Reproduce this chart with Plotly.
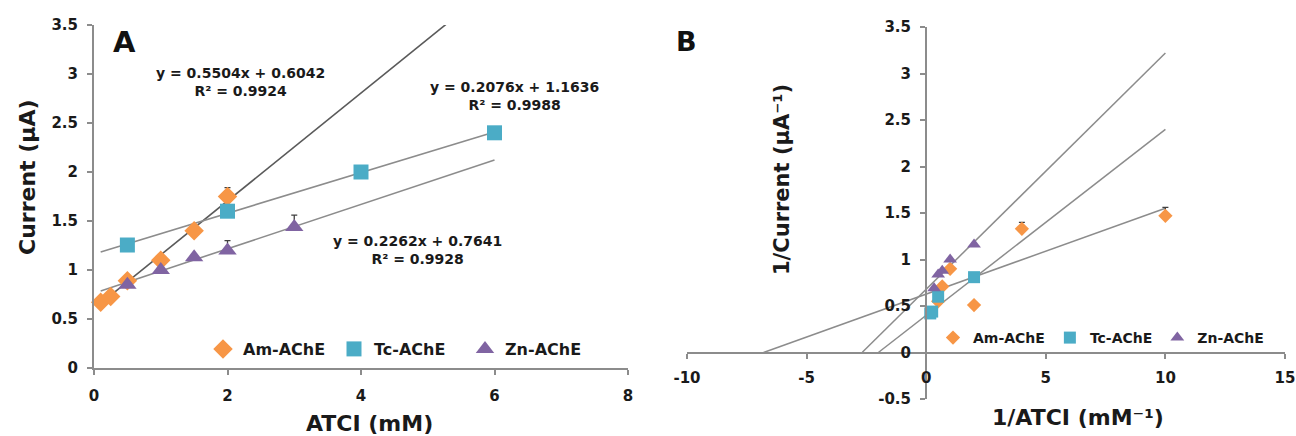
import plotly.graph_objects as go

W, H = 1296, 436

# ---------------- DATA ----------------
series_names = ["Am-AChE", "Tc-AChE", "Zn-AChE"]
series_colors = ["#F79646", "#4BACC6", "#8064A2"]
series_symbols = ["diamond", "square", "triangle-up"]

# Panel A : Current vs ATCI
a_am_x = [0.1, 0.25, 0.5, 1.0, 1.5, 2.0]
a_am_y = [0.67, 0.73, 0.89, 1.10, 1.40, 1.75]
a_am_err = [0.02, 0.02, 0.02, 0.03, 0.03, 0.09]
a_tc_x = [0.5, 2.0, 4.0, 6.0]
a_tc_y = [1.255, 1.60, 2.00, 2.40]
a_tc_err = [0.02, 0.03, 0.03, 0.03]
a_zn_x = [0.5, 1.0, 1.5, 2.0, 3.0]
a_zn_y = [0.85, 1.00, 1.13, 1.20, 1.44]
a_zn_err = [0.02, 0.02, 0.03, 0.10, 0.12]
# trendline coefficients (slope, intercept) printed on the chart
a_fit_slope = [0.5504, 0.2076, 0.2262]
a_fit_icpt = [0.6042, 1.1636, 0.7641]
a_fit_r2 = [0.9924, 0.9988, 0.9928]
a_fit_xrange = [0.1, 6.0]
a_xticks = [0, 2, 4, 6, 8]
a_yticks = [0, 0.5, 1, 1.5, 2, 2.5, 3, 3.5]
a_ytick_labels = ["0", "0.5", "1", "1.5", "2", "2.5", "3", "3.5"]

# Panel B : Lineweaver-Burk
b_am_x = [10.0, 4.0, 2.0, 1.0, 0.67, 0.5]
b_am_y = [1.47, 1.33, 0.51, 0.90, 0.71, 0.55]
b_am_err = [0.09, 0.07, 0.01, 0.02, 0.01, 0.01]
b_tc_x = [0.17, 0.25, 0.5, 2.0]
b_tc_y = [0.42, 0.44, 0.60, 0.81]
b_zn_x = [2.0, 1.0, 0.67, 0.5, 0.33]
b_zn_y = [1.16, 1.00, 0.88, 0.84, 0.69]
b_fit_slope = [0.0923, 0.20, 0.254]      # Am, Tc, Zn
b_fit_icpt = [0.628, 0.40, 0.68]
b_fit_xrange = [[-6.8, 10.0], [-2.0, 10.0], [-2.67, 10.0]]
b_xticks = [-10, -5, 0, 5, 10, 15]
b_xtick_labels = ["-10", "-5", "0", "5", "10", "15"]
b_yticks = [-0.5, 0, 0.5, 1, 1.5, 2, 2.5, 3, 3.5]
b_ytick_labels = ["-0.5", "0", "0.5", "1", "1.5", "2", "2.5", "3", "3.5"]

# ---------------- HELPERS ----------------
def fx(p):
    return p / W

def fy(p):
    return 1 - p / H

FONT = "DejaVu Sans"
AXCOL = "#8C8C8C"

fig = go.Figure()

# ---- Panel A trendlines ----
line_cols_a = ["#5A5A5A", "#8C8C8C", "#8C8C8C"]
for s, b, c in zip(a_fit_slope, a_fit_icpt, line_cols_a):
    xs = list(a_fit_xrange)
    fig.add_trace(go.Scatter(x=xs, y=[s * x + b for x in xs], mode="lines",
                             line=dict(color=c, width=1.6), showlegend=False,
                             hoverinfo="skip", xaxis="x", yaxis="y"))

# ---- Panel A markers ----
a_sets = [(a_am_x, a_am_y, a_am_err), (a_tc_x, a_tc_y, a_tc_err), (a_zn_x, a_zn_y, a_zn_err)]
a_sizes = [15, 15, 16]
for i, (xs, ys, es) in enumerate(a_sets):
    fig.add_trace(go.Scatter(
        x=xs, y=ys, mode="markers", name=series_names[i],
        marker=dict(color=series_colors[i], symbol=series_symbols[i], size=a_sizes[i],
                    line=dict(width=0)),
        error_y=dict(type="data", array=es, arrayminus=[0] * len(es), symmetric=False,
                     color="#404040", thickness=1.3, width=3),
        cliponaxis=False, xaxis="x", yaxis="y", legend="legend"))

# ---- Panel B trendlines ----
for s, b, rng in zip(b_fit_slope, b_fit_icpt, b_fit_xrange):
    fig.add_trace(go.Scatter(x=rng, y=[s * x + b for x in rng], mode="lines",
                             line=dict(color="#8C8C8C", width=1.5), showlegend=False,
                             hoverinfo="skip", xaxis="x2", yaxis="y2"))

# ---- Panel B markers ----
b_sets = [(b_am_x, b_am_y, b_am_err), (b_tc_x, b_tc_y, None), (b_zn_x, b_zn_y, None)]
b_sizes = [11, 12, 12]
for i, (xs, ys, es) in enumerate(b_sets):
    ey = None
    if es is not None:
        ey = dict(type="data", array=es, arrayminus=[0] * len(es), symmetric=False,
                  color="#404040", thickness=1.2, width=3)
    fig.add_trace(go.Scatter(
        x=xs, y=ys, mode="markers", name=series_names[i],
        marker=dict(color=series_colors[i], symbol=series_symbols[i], size=b_sizes[i],
                    line=dict(width=0)),
        error_y=ey, cliponaxis=False, xaxis="x2", yaxis="y2", legend="legend2"))

tickfont = dict(family=FONT, size=15, color="#1a1a1a", weight="bold")
common = dict(showline=True, linecolor=AXCOL, linewidth=2, ticks="outside",
              ticklen=5, tickwidth=2, tickcolor=AXCOL, showgrid=False, zeroline=False,
              tickfont=tickfont, automargin=False)

fig.update_layout(
    width=W, height=H,
    margin=dict(l=0, r=0, t=0, b=0, autoexpand=False),
    paper_bgcolor="white", plot_bgcolor="white",
    xaxis=dict(domain=[fx(94), fx(628)], range=[0, 8], tickvals=a_xticks,
               ticktext=[str(t) for t in a_xticks], ticklabelstandoff=8, anchor="y", **common),
    yaxis=dict(domain=[fy(368), fy(25)], range=[0, 3.5], tickvals=a_yticks,
               ticktext=a_ytick_labels, ticklabelstandoff=6, anchor="x", **common),
    xaxis2=dict(domain=[fx(687), fx(1285)], range=[-10, 15], tickvals=b_xticks,
                ticktext=b_xtick_labels, ticklabelstandoff=6,
                anchor="free", position=fy(353), **common),
    yaxis2=dict(domain=[fy(399), fy(27)], range=[-0.5, 3.5], tickvals=b_yticks,
                ticktext=b_ytick_labels, ticklabelstandoff=6,
                anchor="free", position=fx(926), **common),
    legend=dict(orientation="h", x=fx(203), y=fy(349), xanchor="left", yanchor="middle",
                font=dict(family=FONT, size=16, color="#1a1a1a", weight="bold"),
                bgcolor="rgba(0,0,0,0)", itemsizing="trace",
                entrywidth=86, entrywidthmode="pixels"),
    legend2=dict(orientation="h", x=fx(933), y=fy(338), xanchor="left", yanchor="middle",
                 font=dict(family=FONT, size=14, color="#1a1a1a", weight="bold"),
                 bgcolor="rgba(0,0,0,0)", itemsizing="trace"),
    showlegend=True,
)

ann_font = dict(family=FONT, size=14, color="#1a1a1a", weight="bold")
eq_pos = [(240, 82), (514, 96), (417, 250)]
for (cx, cy), s, b, r2 in zip(eq_pos, a_fit_slope, a_fit_icpt, a_fit_r2):
    fig.add_annotation(x=fx(cx), y=fy(cy), xref="paper", yref="paper",
                       text=f"y = {s:.4f}x + {b:.4f}<br>R² = {r2:.4f}",
                       showarrow=False, font=ann_font, align="center",
                       xanchor="center", yanchor="middle")

title_font = dict(family=FONT, size=22, color="#1a1a1a", weight="bold")
fig.add_annotation(x=fx(369), y=fy(423), xref="paper", yref="paper", text="ATCI (mM)",
                   showarrow=False, font=title_font, xanchor="center", yanchor="middle")
fig.add_annotation(x=fx(28), y=fy(177), xref="paper", yref="paper", text="Current (μA)",
                   showarrow=False, font=title_font, textangle=-90,
                   xanchor="center", yanchor="middle")
fig.add_annotation(x=fx(1078), y=fy(417), xref="paper", yref="paper", text="1/ATCI (mM⁻¹)",
                   showarrow=False, font=title_font, xanchor="center", yanchor="middle")
fig.add_annotation(x=fx(782), y=fy(180), xref="paper", yref="paper", text="1/Current (μA⁻¹)",
                   showarrow=False, font=dict(family=FONT, size=21, color="#1a1a1a", weight="bold"),
                   textangle=-90, xanchor="center", yanchor="middle")

fig.add_annotation(x=fx(124), y=fy(42), xref="paper", yref="paper", text="A",
                   showarrow=False, font=dict(family=FONT, size=29, color="#111111", weight="bold"),
                   xanchor="center", yanchor="middle")
fig.add_annotation(x=fx(686), y=fy(42), xref="paper", yref="paper", text="B",
                   showarrow=False, font=dict(family=FONT, size=27, color="#111111", weight="bold"),
                   xanchor="center", yanchor="middle")

fig.write_html("out.html")
